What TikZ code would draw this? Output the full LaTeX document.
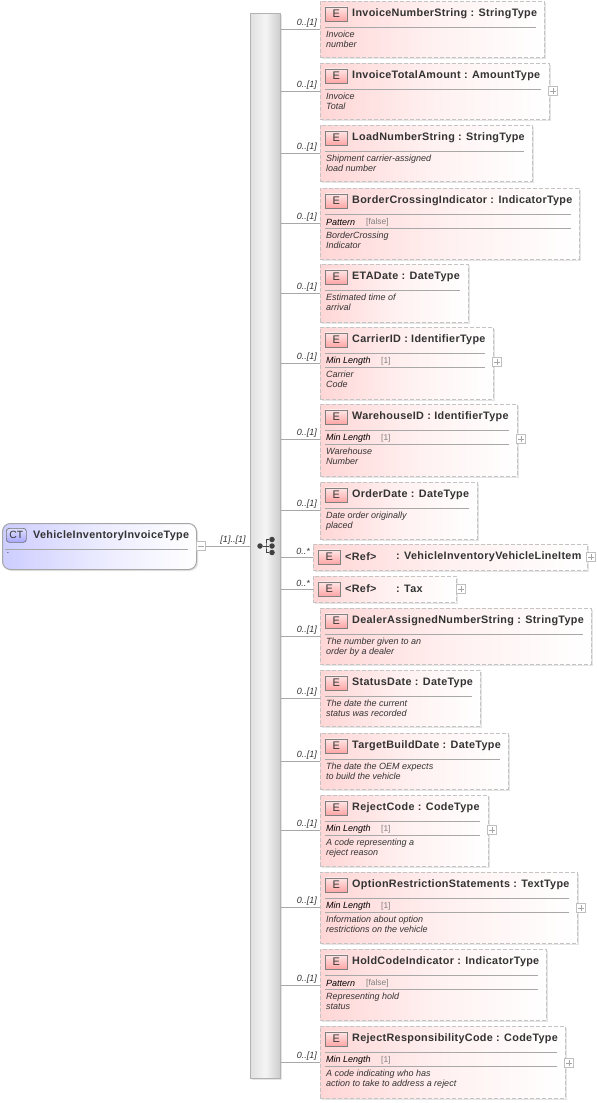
\documentclass[tikz,border=0pt]{standalone}
\usepackage{fontspec}
\setmainfont{Liberation Sans}
\newfontfamily\ttlfont[LetterSpace=3]{Liberation Sans}
\usetikzlibrary{shadows}
\definecolor{bordergray}{HTML}{C4C4C4}
\definecolor{linegray}{HTML}{A8A8A8}
\definecolor{inkgray}{HTML}{333333}
\definecolor{pinkl}{HTML}{FFD6D6}
\definecolor{bluel}{HTML}{CDCDFF}
\tikzset{
  x=1pt,y=-1pt,
  elembox/.style={draw=bordergray,dash pattern=on 4pt off 2pt,line width=1pt,left color=pinkl,right color=white,middle color=pinkl!35,
    drop shadow={shadow xshift=1.5pt,shadow yshift=-1.5pt,fill=black!25,opacity=.4},anchor=north west,inner sep=0pt,outer sep=0pt},
  badge/.style={draw=black!50,line width=.7pt,top color=pinkl!60,bottom color=red!35!white,minimum width=22pt,minimum height=14pt,inner sep=0pt,anchor=north west,font=\fontsize{11}{11}\selectfont,text=inkgray},
  ttl/.style={anchor=west,inner sep=0pt,font=\ttlfont\bfseries\fontsize{10.8}{12}\selectfont,text=inkgray},
  desc/.style={anchor=north west,inner sep=0pt,align=left,font=\itshape\fontsize{9}{10}\selectfont,text=inkgray},
  mult/.style={inner sep=0pt,anchor=east,font=\itshape\fontsize{9}{10}\selectfont,text=inkgray},
  facetname/.style={anchor=west,inner sep=0pt,font=\itshape\fontsize{9}{10}\selectfont,text=black},
  facetval/.style={anchor=west,inner sep=0pt,font=\fontsize{8.4}{10}\selectfont,text=black!50},
  sep/.style={draw=linegray,line width=.8pt},
  conn/.style={draw=linegray,line width=.8pt},
  exp/.style={draw=black!25,fill=white,line width=.7pt,minimum size=9pt,inner sep=0pt},
  dot/.style={circle,fill=black!75,inner sep=0pt,minimum size=5.5pt},
}
% id, l, t, r, b, connector y, title, description, description offset
\def\elem#1#2#3#4#5#6#7#8#9{%
  \node[elembox,minimum width=#4pt-#2pt,minimum height=#5pt-#3pt] (#1) at (#2,#3) {};
  \node[badge] (#1-b) at (#2+5,#3+5.5) {E};
  \node[ttl] (#1-t) at (#2+32,#3+12.5) {#7};
  \draw[sep] (#2+5,#3+26) -- (#4-8,#3+26);
  \node[desc] (#1-d) at (#2+6,#3+#9) {#8};
  \coordinate (#1-in) at (#2,#6);
  \draw[conn] (spine.east |- #1-in) -- (#1-in);
  \node[mult] (#1-m) at (#2-3,#6-6) {0..[1]};
}
% id, l, t, r, label, value, value x
\newcommand\facetrow[7]{%
  \node[facetname] (#1-f) at (#2+6,#3+34.5) {#5};
  \node[facetval] (#1-v) at (#7,#3+34) {#6};
  \draw[sep] (#2+5,#3+40) -- (#4-8,#3+40);
}
\newcommand\plusbox[3]{%
  \node[exp] (#1-p) at (#2,#3) {};
  \draw[black!35,line width=.6pt] (#1-p.center) ++(-3,0) -- ++(6,0) (#1-p.center) ++(0,-3) -- ++(0,6);
}
% id, t, r, connector y, type
\newcommand\refelem[5]{%
  \node[elembox,minimum width=#3pt-313pt,minimum height=26pt] (#1) at (313,#2) {};
  \node[badge] (#1-b) at (318,#2+5.5) {E};
  \node[ttl] (#1-r) at (345,#2+12.5) {<Ref>};
  \node[ttl] (#1-t) at (396,#2+12.5) {#5};
  \coordinate (#1-in) at (313,#4);
  \draw[conn] (spine.east |- #1-in) -- (#1-in);
  \node[mult] (#1-m) at (310,#4-6) {0..*};
}
\begin{document}
\begin{tikzpicture}
\useasboundingbox[fill=white] (0,0) rectangle (597,1103);
% spine
\node[draw=black!30,line width=.8pt,left color=black!12,right color=black!20,middle color=black!4,
  drop shadow={shadow xshift=1.5pt,shadow yshift=-1.5pt,fill=black!25,opacity=.4},
  minimum width=30pt,minimum height=1065pt,inner sep=0pt,anchor=north west] (spine) at (250,13) {};
% sequence icon
\node[dot] (i0) at (260,546) {};
\node[dot] (i1) at (272,539.5) {};
\node[dot] (i2) at (272,546) {};
\node[dot] (i3) at (272,552.5) {};
\coordinate (ij) at (266,546);
\draw[black!75,line width=1pt] (i0) -- (i2) (i1) -| (ij) |- (i3);
% root
\node[draw=black!35,line width=1pt,rounded corners=8pt,left color=bluel,right color=white,middle color=bluel!40,
  drop shadow={shadow xshift=1.5pt,shadow yshift=-1.5pt,fill=black!25,opacity=.4},
  minimum width=194pt,minimum height=46pt,inner sep=0pt,anchor=north west] (root) at (2,523) {};
\node[draw=black!55,line width=.7pt,rounded corners=3pt,top color=bluel!60,bottom color=blue!35!white,minimum width=20pt,minimum height=14pt,inner sep=0pt,anchor=north west,font=\fontsize{10.5}{11}\selectfont,text=inkgray] (ct) at (6,528) {CT};
\node[ttl] (roott) at (33,535.5) {VehicleInventoryInvoiceType};
\draw[sep] (5,549) -- (188,549);
\node[desc] (rootd) at (7,552) {.};
\node[exp] (rootx) at (201,546) {};
\draw[black!35,line width=.6pt] (rootx.center) ++(-3,0) -- ++(6,0);
\draw[conn] (rootx) -- (spine.west |- rootx);
\node[mult,anchor=center] (rootm) at (233,540) {[1]..[1]};
% elements
\elem{e1}{320}{1}{544}{57}{29}{InvoiceNumberString : StringType}{Invoice\\number}{30}
\elem{e2}{320}{63}{549}{119}{91}{InvoiceTotalAmount : AmountType}{Invoice\\Total}{30}
\plusbox{e2}{553}{91}
\elem{e3}{320}{125}{532}{181}{153}{LoadNumberString : StringType}{Shipment carrier-assigned\\load number}{30}
\elem{e4}{320}{188}{579}{259}{223}{BorderCrossingIndicator : IndicatorType}{BorderCrossing\\Indicator}{44}
\facetrow{e4}{320}{188}{579}{Pattern}{[false]}{366}
\elem{e5}{320}{264}{468}{322}{293}{ETADate : DateType}{Estimated time of\\arrival}{30}
\elem{e6}{320}{327}{493}{399}{363}{CarrierID : IdentifierType}{Carrier\\Code}{44}
\facetrow{e6}{320}{327}{493}{Min Length}{[1]}{381}
\plusbox{e6}{497}{362}
\elem{e7}{320}{404}{517}{476}{439}{WarehouseID : IdentifierType}{Warehouse\\Number}{44}
\facetrow{e7}{320}{404}{517}{Min Length}{[1]}{381}
\plusbox{e7}{521}{439}
\elem{e8}{320}{482}{477}{539}{510}{OrderDate : DateType}{Date order originally\\placed}{30}
\refelem{e9}{544}{587}{557}{: VehicleInventoryVehicleLineItem}
\plusbox{e9}{591}{557}
\refelem{e10}{576}{456}{589}{: Tax}
\plusbox{e10}{461}{589}
\elem{e11}{320}{608}{591}{664}{636}{DealerAssignedNumberString : StringType}{The number given to an\\order by a dealer}{30}
\elem{e12}{320}{670}{480}{726}{698}{StatusDate : DateType}{The date the current\\status was recorded}{30}
\elem{e13}{320}{733}{508}{789}{761}{TargetBuildDate : DateType}{The date the OEM expects\\to build the vehicle}{30}
\elem{e14}{320}{795}{488}{866}{830}{RejectCode : CodeType}{A code representing a\\reject reason}{44}
\facetrow{e14}{320}{795}{488}{Min Length}{[1]}{381}
\plusbox{e14}{492}{830}
\elem{e15}{320}{872}{577}{943}{907}{OptionRestrictionStatements : TextType}{Information about option\\restrictions on the vehicle}{44}
\facetrow{e15}{320}{872}{577}{Min Length}{[1]}{381}
\plusbox{e15}{581}{908}
\elem{e16}{320}{949}{546}{1020}{985}{HoldCodeIndicator : IndicatorType}{Representing hold\\status}{44}
\facetrow{e16}{320}{949}{546}{Pattern}{[false]}{366}
\elem{e17}{320}{1026}{565}{1098}{1062}{RejectResponsibilityCode : CodeType}{A code indicating who has\\action to take to address a reject}{44}
\facetrow{e17}{320}{1026}{565}{Min Length}{[1]}{381}
\plusbox{e17}{569}{1063}
\end{tikzpicture}
\end{document}
